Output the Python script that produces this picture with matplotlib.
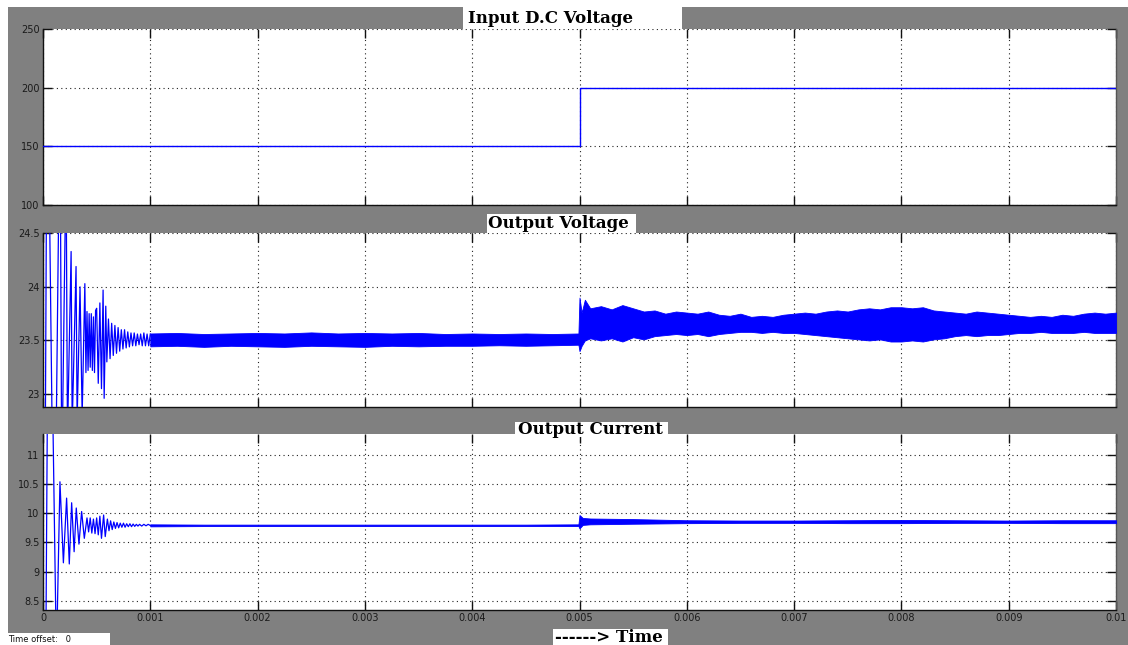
import matplotlib
matplotlib.use('Agg')
import matplotlib.pyplot as plt
import numpy as np
from matplotlib.patches import Rectangle

# ---------------- data ----------------
time_ticks = [0, 0.001, 0.002, 0.003, 0.004, 0.005, 0.006, 0.007, 0.008, 0.009, 0.01]
time_tick_labels = ['0', '0.001', '0.002', '0.003', '0.004', '0.005', '0.006',
                    '0.007', '0.008', '0.009', '0.01']

vin_ticks = [100, 150, 200, 250]
vout_ticks = [23, 23.5, 24, 24.5]
vout_tick_labels = ['23', '23.5', '24', '24.5']
iout_ticks = [8.5, 9, 9.5, 10, 10.5, 11]
iout_tick_labels = ['8.5', '9', '9.5', '10', '10.5', '11']

titles = ['Input D.C Voltage', 'Output Voltage', 'Output Current']
xlabel_text = '------> Time'

# Input DC voltage (step at 5 ms)
vin_t_ms = [0.0, 5.0, 5.0, 10.0]
vin_v = [150, 150, 200, 200]

# Output voltage: start-up transient peaks (ms, V)
vout_tr_t_ms = [0.0, 0.04, 0.105, 0.158, 0.175, 0.215, 0.228, 0.262, 0.272, 0.308,
                0.318, 0.345, 0.365, 0.39, 0.40, 0.41, 0.42, 0.43, 0.44, 0.45,
                0.46, 0.47, 0.48, 0.49, 0.50, 0.515, 0.53, 0.545, 0.56, 0.57,
                0.585, 0.595, 0.61, 0.625, 0.64, 0.655, 0.67, 0.685, 0.70, 0.715,
                0.73, 0.745, 0.76, 0.775, 0.79, 0.805, 0.82, 0.835, 0.85, 0.865,
                0.88, 0.895, 0.91, 0.925, 0.94, 0.955, 0.97, 0.985, 1.0]
vout_tr_v = [18.0, 26.5, 21.0, 25.8, 22.2, 25.2, 22.6, 24.33, 22.7, 24.19,
             22.75, 24.0, 22.8, 24.03, 23.2, 23.77, 23.22, 23.75, 23.25, 23.75,
             23.22, 23.72, 23.2, 23.78, 23.8, 23.1, 23.85, 23.05, 23.97, 22.96,
             23.82, 23.3, 23.7, 23.33, 23.66, 23.36, 23.64, 23.38, 23.62, 23.4,
             23.6, 23.42, 23.6, 23.43, 23.58, 23.44, 23.57, 23.45, 23.57, 23.45,
             23.56, 23.46, 23.56, 23.45, 23.57, 23.45, 23.56, 23.45, 23.56]

# Output voltage: ripple band envelope (ms, upper V, lower V)
vout_env_t_ms = [1.0, 1.25, 1.5, 1.75, 2.0, 2.25, 2.5, 2.75, 3.0, 3.25, 3.5, 3.75,
                 4.0, 4.25, 4.5, 4.75, 4.99,
                 5.0, 5.02, 5.05, 5.1, 5.2, 5.3, 5.4, 5.5, 5.6, 5.7, 5.8, 5.9,
                 6.0, 6.1, 6.2, 6.3, 6.4, 6.5, 6.6, 6.7, 6.8, 6.9,
                 7.0, 7.1, 7.2, 7.3, 7.4, 7.5, 7.6, 7.7, 7.8, 7.9,
                 8.0, 8.1, 8.2, 8.3, 8.4, 8.5, 8.6, 8.7, 8.8, 8.9,
                 9.0, 9.1, 9.2, 9.3, 9.4, 9.5, 9.6, 9.7, 9.8, 9.9, 10.0]
vout_env_hi = [23.565, 23.57, 23.56, 23.565, 23.57, 23.565, 23.575, 23.565, 23.57,
               23.565, 23.57, 23.56, 23.565, 23.56, 23.565, 23.56, 23.565,
               23.90, 23.76, 23.88, 23.80, 23.82, 23.79, 23.83, 23.80, 23.77, 23.78,
               23.75, 23.77,
               23.76, 23.75, 23.77, 23.74, 23.73, 23.75, 23.72, 23.73, 23.72, 23.74,
               23.75, 23.76, 23.75, 23.77, 23.78, 23.77, 23.79, 23.80, 23.79, 23.81,
               23.81, 23.80, 23.81, 23.78, 23.77, 23.76, 23.75, 23.77, 23.76, 23.75,
               23.74, 23.73, 23.72, 23.73, 23.72, 23.74, 23.73, 23.75, 23.76, 23.75,
               23.76]
vout_env_lo = [23.445, 23.45, 23.44, 23.45, 23.445, 23.44, 23.45, 23.445, 23.44,
               23.45, 23.445, 23.45, 23.45, 23.455, 23.45, 23.455, 23.46,
               23.40, 23.45, 23.50, 23.52, 23.50, 23.52, 23.49, 23.53, 23.51, 23.54,
               23.55, 23.56,
               23.55, 23.56, 23.54, 23.56, 23.57, 23.58, 23.58, 23.57, 23.58, 23.57,
               23.57, 23.56, 23.55, 23.54, 23.53, 23.52, 23.51, 23.50, 23.51, 23.49,
               23.49, 23.50, 23.49, 23.51, 23.52, 23.54, 23.55, 23.54, 23.55, 23.55,
               23.56, 23.57, 23.57, 23.58, 23.57, 23.57, 23.57, 23.58, 23.57, 23.57,
               23.57]

# Output current: start-up transient peaks (ms, A)
iout_tr_t_ms = [0.0, 0.045, 0.085, 0.125, 0.158, 0.19, 0.22, 0.245, 0.267, 0.29,
                0.31, 0.335, 0.36, 0.385, 0.41, 0.425, 0.44, 0.455, 0.47, 0.485,
                0.50, 0.515, 0.53, 0.545, 0.565, 0.58, 0.60, 0.615, 0.63, 0.645,
                0.66, 0.675, 0.69, 0.705, 0.72, 0.735, 0.75, 0.765, 0.78, 0.795,
                0.81, 0.825, 0.84, 0.855, 0.87, 0.885, 0.90, 0.92, 0.94, 0.96,
                0.98, 1.0]
iout_tr_v = [0.0, 13.0, 12.5, 7.5, 10.54, 9.15, 10.26, 9.13, 10.18, 9.34,
             10.09, 9.47, 10.03, 9.57, 9.92, 9.68, 9.92, 9.66, 9.90, 9.65,
             9.92, 9.63, 9.95, 9.57, 9.97, 9.60, 9.90, 9.70, 9.87, 9.72,
             9.85, 9.74, 9.84, 9.75, 9.83, 9.76, 9.83, 9.76, 9.82, 9.77,
             9.82, 9.77, 9.815, 9.775, 9.81, 9.78, 9.81, 9.78, 9.81, 9.785,
             9.81, 9.79]

# Output current: ripple band envelope (ms, upper A, lower A)
iout_env_t_ms = [1.0, 1.5, 2.0, 2.5, 3.0, 3.5, 4.0, 4.5, 4.99, 5.0, 5.03, 5.1,
                 5.3, 5.5, 6.0, 6.5, 7.0, 7.5, 8.0, 8.5, 9.0, 9.5, 10.0]
iout_env_hi = [9.81, 9.805, 9.805, 9.805, 9.805, 9.805, 9.805, 9.805, 9.81, 9.97,
               9.92, 9.91, 9.905, 9.90, 9.88, 9.875, 9.875, 9.88, 9.885, 9.88,
               9.875, 9.88, 9.88]
iout_env_lo = [9.775, 9.78, 9.78, 9.78, 9.78, 9.78, 9.78, 9.78, 9.78, 9.74,
               9.80, 9.81, 9.815, 9.82, 9.83, 9.835, 9.835, 9.83, 9.83, 9.835,
               9.835, 9.83, 9.83]

# ---------------- layout ----------------
W, H = 1128, 645
fig = plt.figure(figsize=(W / 100, H / 100), dpi=100)
fig.patch.set_facecolor('#808080')


def fx(px):
    return px / W


def fy(py):
    return 1 - py / H


# white strips (screen capture border)
fig.add_artist(Rectangle((0, fy(7)), 1, fy(0) - fy(7), transform=fig.transFigure,
                         facecolor='white', edgecolor='none', zorder=0))
fig.add_artist(Rectangle((0, 0), fx(8), 1, transform=fig.transFigure,
                         facecolor='white', edgecolor='none', zorder=0))
fig.add_artist(Rectangle((0, 0), fx(110), fy(633), transform=fig.transFigure,
                         facecolor='white', edgecolor='none', zorder=0))

ax_px = [(29, 205), (233.3, 407.3), (434, 610)]
left_px, right_px = 43, 1116
axes = []
for top, bot in ax_px:
    ax = fig.add_axes([fx(left_px), fy(bot), fx(right_px - left_px), fy(top) - fy(bot)])
    axes.append(ax)

ylims = [(100, 250), (22.876, 24.5), (8.34, 11.36)]
yticks = [vin_ticks, vout_ticks, iout_ticks]
ylabels = [[str(v) for v in vin_ticks], vout_tick_labels, iout_tick_labels]

for i, ax in enumerate(axes):
    ax.set_facecolor('white')
    ax.set_xlim(0, 0.01)
    ax.set_ylim(*ylims[i])
    ax.set_xticks(time_ticks)
    ax.set_yticks(yticks[i])
    ax.set_yticklabels(ylabels[i])
    if i == 2:
        ax.set_xticklabels(time_tick_labels)
    else:
        ax.set_xticklabels([])
    ax.tick_params(direction='in', length=6.5, width=1.0, color='#111111',
                   top=True, right=True, labelsize=7, labelcolor='#1a1a1a', pad=2.5)
    ax.grid(True, color='#222222', linestyle=(0, (1, 3)), linewidth=0.8)
    for s in ['left', 'bottom']:
        ax.spines[s].set_color('#111111')
        ax.spines[s].set_linewidth(1.0)
    ax.spines['top'].set_visible(False)
    ax.spines['right'].set_color('#555555')
    ax.spines['right'].set_linewidth(1.0)

blue = '#0000ff'
ms = 1e-3

axes[0].plot(np.array(vin_t_ms) * ms, vin_v, color=blue, lw=1.0, zorder=3)

axes[1].plot(np.array(vout_tr_t_ms) * ms, vout_tr_v, color=blue, lw=0.9, zorder=3)
axes[1].fill_between(np.array(vout_env_t_ms) * ms, vout_env_lo, vout_env_hi,
                     facecolor=blue, edgecolor=blue, lw=0.6, zorder=3)

axes[2].plot(np.array(iout_tr_t_ms) * ms, iout_tr_v, color=blue, lw=0.9, zorder=3)
axes[2].fill_between(np.array(iout_env_t_ms) * ms, iout_env_lo, iout_env_hi,
                     facecolor=blue, edgecolor=blue, lw=0.6, zorder=3)

# title boxes
boxes = [(463, 7.5, 682, 28.5), (487, 213.5, 636, 233), (515, 421.5, 668, 437)]
text_cx = [550, 558.5, 590]
for (x0, y0, x1, y1), t, cx in zip(boxes, titles, text_cx):
    fig.add_artist(Rectangle((fx(x0), fy(y1)), fx(x1 - x0), fy(y0) - fy(y1),
                             transform=fig.transFigure, facecolor='white',
                             edgecolor='none', zorder=5))
    fig.text(fx(cx), fy((y0 + y1) / 2 + 0.5), t, ha='center', va='center',
             family='DejaVu Serif', fontweight='bold', fontsize=12, color='black',
             zorder=6)

# x label box
fig.add_artist(Rectangle((fx(553), 0), fx(668 - 553), fy(629), transform=fig.transFigure,
                         facecolor='white', edgecolor='none', zorder=5))
fig.text(fx(609), fy(637.5), xlabel_text, ha='center', va='center',
         family='DejaVu Serif', fontweight='bold', fontsize=12, color='black', zorder=6)

fig.text(fx(8), fy(639.5), 'Time offset:   0', ha='left', va='center',
         fontsize=6, color='#111111')

fig.savefig('out.png', dpi=100, facecolor=fig.get_facecolor())
